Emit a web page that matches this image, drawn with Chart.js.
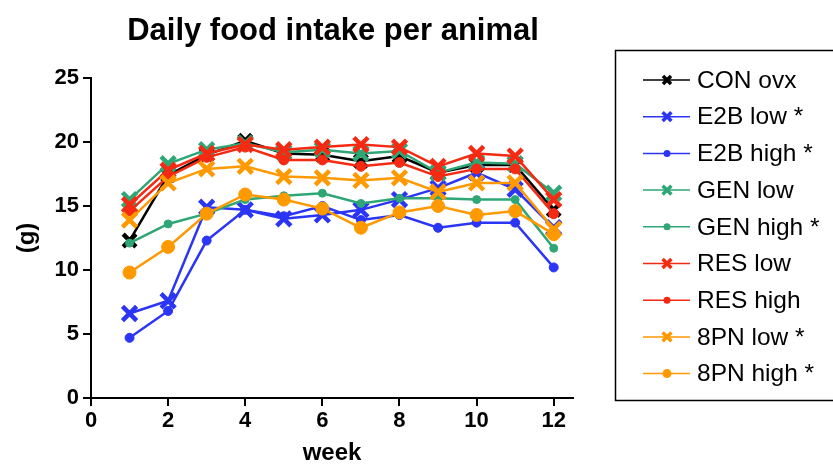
<!DOCTYPE html>
<html>
<head>
<meta charset="utf-8">
<script src="https://cdn.jsdelivr.net/npm/chart.js@4.4.1/dist/chart.umd.min.js"></script>
<style>
  html, body { margin: 0; padding: 0; background: #fff; }
  #wrap { width: 833px; height: 465px; position: relative; }
</style>
</head>
<body>
<div id="wrap"><canvas id="chart"></canvas></div>
<script>
// data
const weeks = [1, 2, 3, 4, 5, 6, 7, 8, 9, 10, 11, 12];
const xTicks = [0, 2, 4, 6, 8, 10, 12];
const yTicks = [0, 5, 10, 15, 20, 25];

const conOvx   = [12.3, 17.4, 19.0, 20.1, 19.1, 19.0, 18.5, 18.9, 17.6, 18.2, 18.2, 14.7];
const e2bLow   = [6.6, 7.6, 14.9, 14.7, 14.0, 14.3, 14.7, 15.5, 16.4, 17.6, 16.3, 13.3];
const e2bHigh  = [4.7, 6.8, 12.3, 14.7, 14.2, 15.0, 13.9, 14.3, 13.3, 13.7, 13.7, 10.2];
const genLow   = [15.5, 18.3, 19.4, 19.9, 19.2, 19.4, 19.1, 19.3, 17.6, 18.4, 18.3, 16.0];
const genHigh  = [12.1, 13.6, 14.4, 15.5, 15.8, 16.0, 15.2, 15.6, 15.6, 15.5, 15.5, 11.7];
const resLow   = [15.1, 17.8, 19.1, 19.8, 19.4, 19.6, 19.8, 19.6, 18.1, 19.1, 18.9, 15.5];
const resHigh  = [14.6, 17.3, 18.8, 19.6, 18.6, 18.6, 18.1, 18.4, 17.3, 17.9, 17.9, 14.4];
const pnLow    = [13.9, 16.8, 17.9, 18.1, 17.3, 17.2, 17.0, 17.2, 16.1, 16.8, 16.8, 13.2];
const pnHigh   = [9.8, 11.8, 14.4, 15.9, 15.5, 14.8, 13.3, 14.5, 15.0, 14.3, 14.6, 12.8];

const series = [
  { label: 'CON ovx',    values: conOvx,  color: '#000000', shape: 'crossRot', r: 9,   legR: 5 },
  { label: 'E2B low *',  values: e2bLow,  color: '#2b35f5', shape: 'crossRot', r: 10,  legR: 5.5 },
  { label: 'E2B high *', values: e2bHigh, color: '#2b35f5', shape: 'circle',   r: 4.5, legR: 3.5 },
  { label: 'GEN low',    values: genLow,  color: '#2fa676', shape: 'crossRot', r: 10,  legR: 5.5 },
  { label: 'GEN high *', values: genHigh, color: '#2fa676', shape: 'circle',   r: 4,   legR: 3.5 },
  { label: 'RES low',    values: resLow,  color: '#f52a12', shape: 'crossRot', r: 10,  legR: 5.5 },
  { label: 'RES high',   values: resHigh, color: '#f52a12', shape: 'circle',   r: 5,   legR: 3.5 },
  { label: '8PN low *',  values: pnLow,   color: '#ff9900', shape: 'crossRot', r: 10,  legR: 5.5 },
  { label: '8PN high *', values: pnHigh,  color: '#ff9900', shape: 'circle',   r: 6.5, legR: 4.5 }
];

const FONT = '"Liberation Sans", Arial, sans-serif';

const datasets = series.map((s, i) => ({
  label: s.label,
  data: weeks.map((w, j) => ({ x: w, y: s.values[j] })),
  borderColor: s.color,
  backgroundColor: s.color,
  borderWidth: 2.5,
  pointStyle: s.shape,
  pointRadius: s.r,
  pointBorderWidth: s.shape === 'crossRot' ? 4.5 : 1,
  pointBackgroundColor: s.color,
  pointBorderColor: s.color,
  tension: 0,
  order: series.length - i   // later series drawn on top
}));

// title + legend box drawn on the canvas
const extras = {
  id: 'extras',
  afterDraw(chart) {
    const ctx = chart.ctx;
    ctx.save();
    ctx.fillStyle = '#000';
    ctx.font = 'bold 31px ' + FONT;
    ctx.textAlign = 'center';
    ctx.textBaseline = 'middle';
    ctx.fillText('Daily food intake per animal', 333, 31);

    // legend frame
    ctx.strokeStyle = '#000';
    ctx.lineWidth = 1.5;
    ctx.strokeRect(615.5, 50.5, 240, 350);

    ctx.font = '24.5px ' + FONT;
    ctx.textAlign = 'left';
    series.forEach((s, i) => {
      const y = 80 + i * 36.7;
      ctx.strokeStyle = s.color;
      ctx.lineWidth = 1.5;
      ctx.beginPath();
      ctx.moveTo(643, y);
      ctx.lineTo(690, y);
      ctx.stroke();
      ctx.fillStyle = s.color;
      if (s.shape === 'crossRot') {
        const d = s.legR * 0.8;
        ctx.lineWidth = 3.5;
        ctx.beginPath();
        ctx.moveTo(667 - d, y - d); ctx.lineTo(667 + d, y + d);
        ctx.moveTo(667 - d, y + d); ctx.lineTo(667 + d, y - d);
        ctx.stroke();
      } else {
        ctx.beginPath();
        ctx.arc(667, y, s.legR, 0, Math.PI * 2);
        ctx.fill();
      }
      ctx.fillStyle = '#000';
      ctx.fillText(s.label, 697, y + 1);
    });
    ctx.restore();
  }
};

new Chart(document.getElementById('chart'), {
  type: 'line',
  data: { datasets },
  options: {
    responsive: true,
    maintainAspectRatio: false,
    animation: false,
    layout: { padding: { left: 0, right: 260, top: 78, bottom: 0 } },
    plugins: {
      legend: { display: false },
      tooltip: { enabled: false },
      title: { display: false }
    },
    scales: {
      x: {
        type: 'linear',
        min: 0,
        max: 12.5,
        afterBuildTicks: (scale) => { scale.ticks = xTicks.map(v => ({ value: v })); },
        afterFit: (scale) => { scale.height = 67; },
        border: { color: '#000', width: 2 },
        grid: { drawOnChartArea: false, drawTicks: true, tickLength: 8, color: '#000', lineWidth: 2 },
        ticks: { color: '#000', font: { family: FONT, size: 22, weight: 'bold' }, padding: 2, maxRotation: 0 },
        title: { display: true, text: 'week', color: '#000', font: { family: FONT, size: 24, weight: 'bold', lineHeight: 1 }, padding: 0 }
      },
      y: {
        min: 0,
        max: 25,
        afterBuildTicks: (scale) => { scale.ticks = yTicks.map(v => ({ value: v })); },
        afterFit: (scale) => { scale.width = 91; },
        border: { color: '#000', width: 2 },
        grid: { drawOnChartArea: false, drawTicks: true, tickLength: 8, color: '#000', lineWidth: 2 },
        ticks: { color: '#000', font: { family: FONT, size: 22, weight: 'bold' }, padding: 4 },
        title: { display: true, text: '(g)', color: '#000', font: { family: FONT, size: 24, weight: 'bold', lineHeight: 1 }, padding: 15 }
      }
    }
  },
  plugins: [extras]
});
</script>
</body>
</html>
